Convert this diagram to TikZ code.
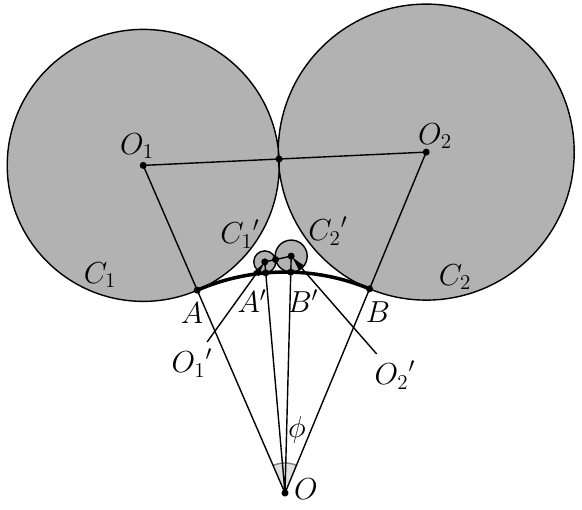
\documentclass[tikz,border=0pt]{standalone}
\usepackage{amsmath,amssymb}
\usetikzlibrary{calc,arrows.meta}

\begin{document}
\begin{tikzpicture}[line width=0.8pt,every node/.style={font=\LARGE}]
	\newcommand{\Rr}{4.42}
	\newcommand{\rA}{2.72}
	\newcommand{\rB}{2.96}
	\useasboundingbox (-5.70,-0.32) rectangle (5.94,9.86);
	\coordinate (O) at (0,0); %O
	\coordinate (O1) at (113.4:{\Rr+\rA}); %O_1
	\coordinate (O2) at (67.5:{\Rr+\rB}); %O_2
	\coordinate (A) at (113.4:\Rr); %A
	\coordinate (B) at (67.5:\Rr); %B
	\coordinate (Ap) at (95:\Rr); %A'
	\coordinate (Bp) at (88.5:\Rr); %B'
	\coordinate (Q1) at (95:{\Rr+0.22}); %O_1'
	\coordinate (Q2) at (88.5:{\Rr+0.32}); %O_2'
	\coordinate (T) at ($(O1)!\rA cm!(O2)$);
	\coordinate (S) at ($(Q1)!0.22cm!(Q2)$);
	\filldraw[fill=black!30] (O1) circle (\rA) (O2) circle (\rB); %C_1, C_2
	\fill[black!12] (O) -- (113.4:0.6) arc[start angle=113.4,end angle=67.5,radius=0.6] -- cycle; %phi
	\draw[gray] (113.4:0.6) arc[start angle=113.4,end angle=67.5,radius=0.6];
	\filldraw[fill=black!30] (Q1) circle (0.22) (Q2) circle (0.32); %C_1', C_2'
	\draw (O1) -- (O2) (O1) -- (O) -- (O2) (Q1) -- (O) -- (Q2) (Q1) -- (Q2);
	\draw[line width=2pt] (A) arc[start angle=113.4,end angle=67.5,radius=\Rr];
	\foreach \p in {O,O1,O2,A,B,Ap,Bp,Q1,Q2,T,S} \fill (\p) circle (2pt);
	\node (o) at (0.42,0.08) {$O$};
	\node (o1) at (-2.96,6.94) {$O_1$};
	\node (o2) at (3.00,7.14) {$O_2$};
	\node (a) at (-1.86,3.60) {$A$};
	\node (b) at (1.86,3.62) {$B$};
	\node (ap) at (-0.66,3.84) {$A'$};
	\node (bp) at (0.36,3.84) {$B'$};
	\node (c1) at (-3.70,4.36) {$C_1$};
	\node (c2) at (3.40,4.32) {$C_2$};
	\node (c1p) at (-0.90,5.18) {${C_1}'$};
	\node (c2p) at (0.86,5.24) {${C_2}'$};
	\node (o1p) at (-1.86,2.60) {${O_1}'$};
	\node (o2p) at (2.20,2.36) {${O_2}'$};
	\node (phi) at (0.24,1.26) {$\phi$};
	\draw[-{Latex[length=3mm,width=1.4mm]}] (o1p) -- (Q1);
	\draw[-{Latex[length=3mm,width=1.4mm]}] (o2p) -- (Q2);
\end{tikzpicture}
\end{document}
